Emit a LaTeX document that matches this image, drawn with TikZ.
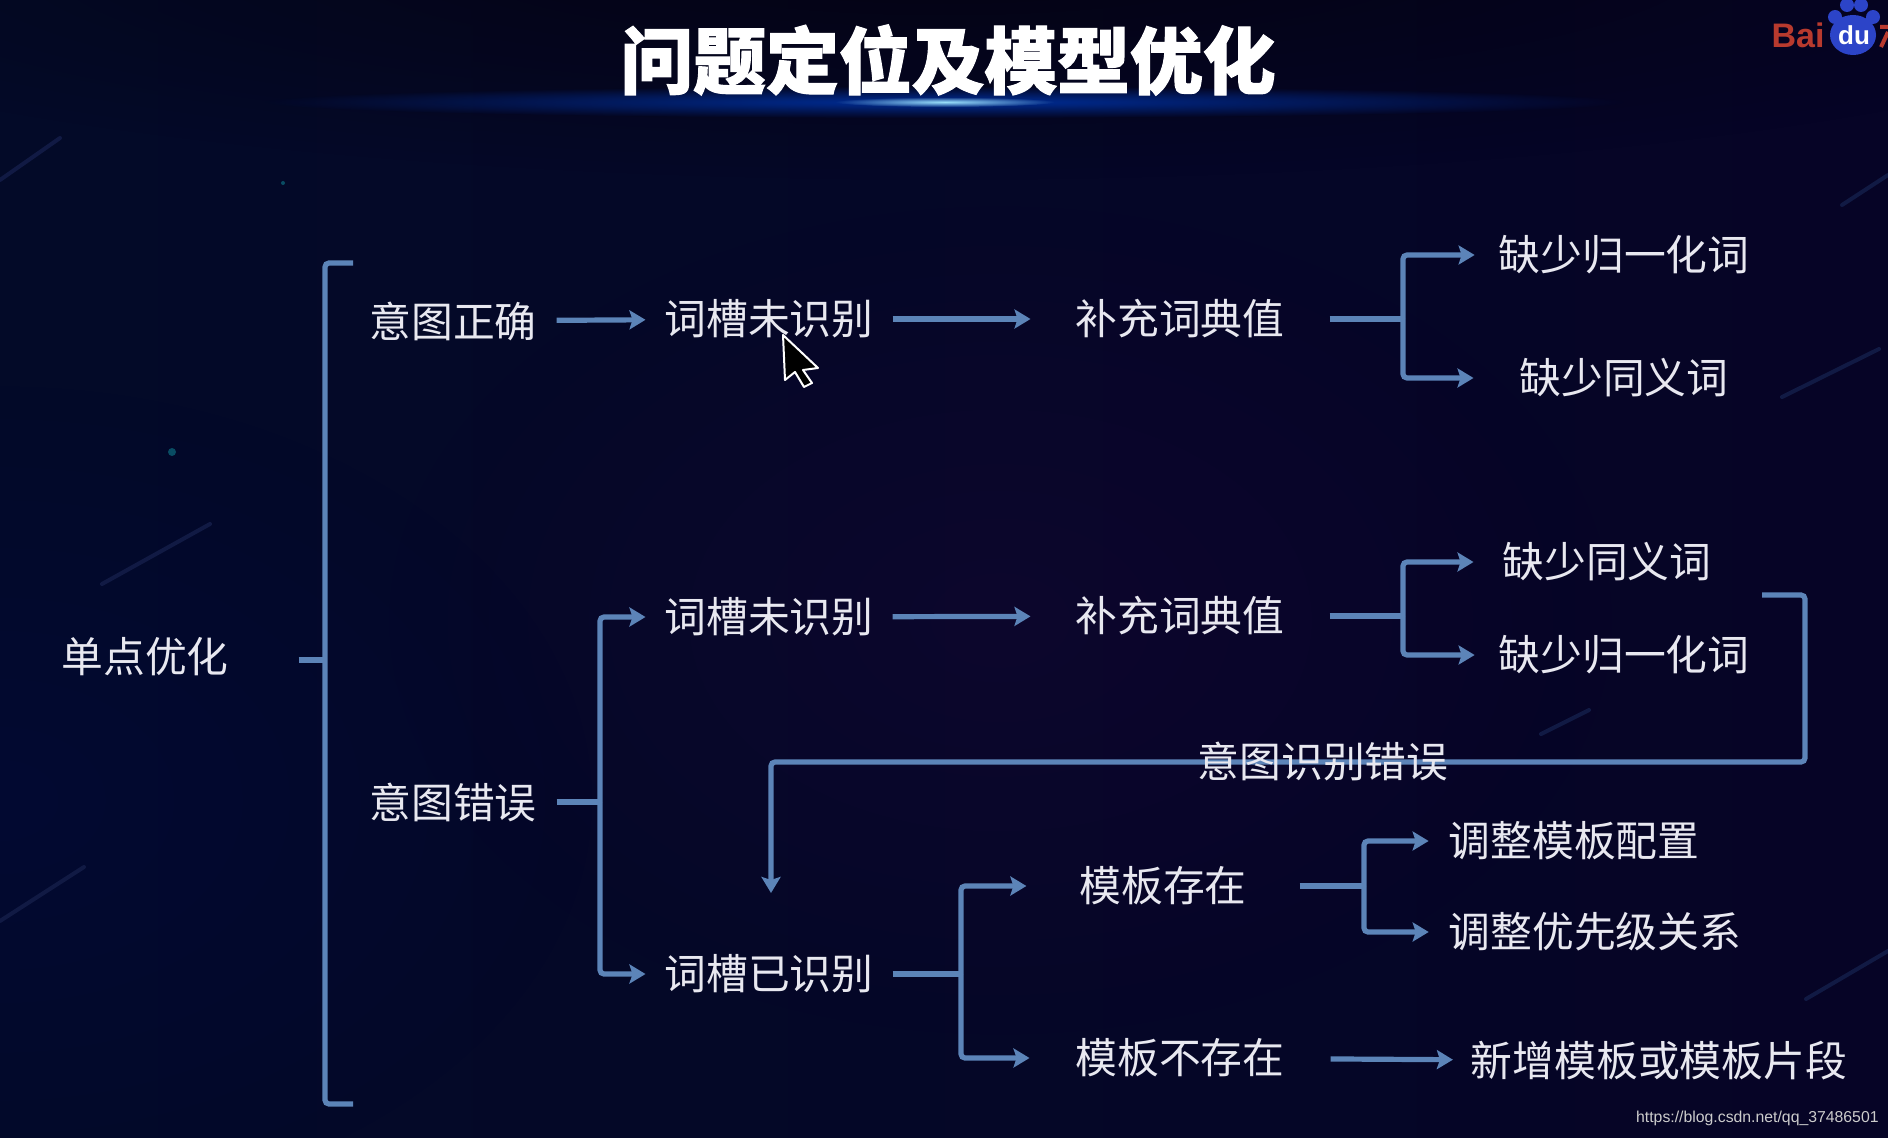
\documentclass[tikz,border=0pt]{standalone}
\usepackage{fontspec}
\setmainfont{Noto Sans CJK SC}
\newfontfamily\wmfont{Liberation Sans}
\newfontfamily\titlefont[BoldFeatures={FakeBold=1.5}]{Noto Sans CJK SC}
\usetikzlibrary{arrows.meta,fadings}
\definecolor{bgmid}{HTML}{0D052E}
\definecolor{bgleft}{HTML}{030A28}
\definecolor{bgright}{HTML}{060426}
\definecolor{flowblue}{HTML}{5C84B8}
\definecolor{labelgrey}{HTML}{E8E8F0}
\definecolor{streak}{HTML}{111A44}
\definecolor{baidured}{HTML}{B83A2E}
\definecolor{baidublue}{HTML}{2C44C8}
\tikzfading[name=glowfade,inner color=transparent!0,outer color=transparent!100]
\tikzset{
  lbl/.style={text=labelgrey,inner sep=0pt,outer sep=10pt,font=\fontsize{20.9}{24}\selectfont},
  flow/.style={draw=flowblue,line width=2.6pt,rounded corners=2pt},
  arr/.style={flow,-{Stealth[length=8pt,width=9.5pt,inset=1.5pt]}},
}
\begin{document}
\begin{tikzpicture}[x=0.5pt,y=-0.5pt]
\useasboundingbox (0,0) rectangle (1888,1138);
% background
\shade[left color=bgleft,middle color=bgmid,right color=bgright] (0,0) rectangle (1888,1138);
\fill[black!70!bgmid,path fading=glowfade,opacity=.8] (944,-40) ellipse (1300 and 220);
\fill[blue!45!bgleft,path fading=glowfade,opacity=.1] (0,800) ellipse (600 and 420);
\fill[violet!50!bgmid,path fading=glowfade,opacity=.12] (1000,620) ellipse (620 and 420);
\foreach \xa/\ya/\xb/\yb in {0/180/60/138,102/584/210/524,0/921/84/867,1782/397/1879/349,1842/205/1888/175,1806/999/1888/951,1541/734/1589/710}
  \draw[streak,line width=2pt,line cap=round] (\xa,\ya)--(\xb,\yb);
\fill[streak!70!cyan!80!black] (172,452) circle(4);
\fill[streak!70!cyan!80!black] (283,183) circle(2);
% title and glow
\fill[blue!70!cyan!60!black,path fading=glowfade] (945,102) ellipse (680 and 16);
\fill[cyan!40!white,path fading=glowfade] (945,102) ellipse (110 and 5);
\node (title) at (948,60) [text=white,inner sep=0pt,font=\titlefont\fontsize{36.4}{40}\bfseries\selectfont] {问题定位及模型优化};
% baidu logo
\node (bai) at (1798,35) [text=baidured,inner sep=0pt,font=\wmfont\fontsize{17}{18}\bfseries\selectfont] {Bai};
\fill[baidublue] (1835,17) circle(7) (1847,5) circle(7) (1861,5) circle(7) (1873,17) circle(7) (1853,35) ellipse (23 and 20);
\node (du) at (1854,35) [text=white,inner sep=0pt,font=\wmfont\fontsize{13}{14}\bfseries\selectfont] {du};
\draw[baidured,line width=2pt] (1880,27)--(1888,27) (1888,32)--(1881,47);
% nodes
\node[lbl,outer sep=35pt] (root) at (145,657) {单点优化};
\node[lbl] (intentok) at (453,321) {意图正确};
\node[lbl,outer sep=9.5pt] (slota) at (769,319) {词槽未识别};
\node[lbl,outer sep=22.5pt] (filla) at (1180,319) {补充词典值};
\node[lbl,outer sep=12pt] (norma) at (1624,255) {缺少归一化词};
\node[lbl,outer sep=23pt] (syna) at (1624,378) {缺少同义词};
\node[lbl] (intentbad) at (453,802) {意图错误};
\node[lbl,outer sep=9.5pt] (slotb) at (769,617) {词槽未识别};
\node[lbl,outer sep=22.5pt] (fillb) at (1180,616) {补充词典值};
\node[lbl,outer sep=14.5pt] (synb) at (1607,562) {缺少同义词};
\node[lbl,outer sep=12pt] (normb) at (1624,655) {缺少归一化词};
\node[lbl,outer sep=9.5pt] (slotc) at (769,974) {词槽已识别};
\node[lbl,outer sep=26.5pt] (tplyes) at (1163,886) {模板存在};
\node[lbl,outer sep=23pt] (tplno) at (1180,1058) {模板不存在};
\node[lbl] (cfg) at (1574,841) {调整模板配置};
\node[lbl] (prio) at (1595,932) {调整优先级关系};
\node[lbl,outer sep=9pt] (addtpl) at (1659,1061) {新增模板或模板片段};
% junctions
\coordinate (bracetop) at (353,263);
\coordinate (bracebot) at (353,1104);
\coordinate (bracemid) at (325,660);
\coordinate (ja) at (1403,319);
\coordinate (jb) at (1403,616);
\coordinate (jc) at (600,802);
\coordinate (jd) at (961,974);
\coordinate (je) at (1364,886);
\coordinate (backa) at (1762,595);
\coordinate (backb) at (1805,762);
\coordinate (backc) at (771,762);
\coordinate (backd) at (771,893);
% connectors
\draw[flow] (bracetop)--(325,263)--(325,1104)--(bracebot);
\draw[flow] (root.east|-bracemid)--(bracemid);
\draw[arr] (intentok)--(slota);
\draw[arr] (slota)--(filla);
\draw[flow] (filla)--(ja);
\draw[arr] (ja)|-(norma);
\draw[arr] (ja)|-(syna);
\draw[flow] (intentbad)--(jc);
\draw[arr] (jc)|-(slotb);
\draw[arr] (jc)|-(slotc);
\draw[arr] (slotb)--(fillb);
\draw[flow] (fillb)--(jb);
\draw[arr] (jb)|-(synb);
\draw[arr] (jb)|-(normb);
\draw[flow] (slotc)--(jd);
\draw[arr] (jd)|-(tplyes);
\draw[arr] (jd)|-(tplno);
\draw[flow] (tplyes)--(je);
\draw[arr] (je)|-(cfg);
\draw[arr] (je)|-(prio);
\draw[arr] (tplno)--(addtpl);
\draw[arr] (backa)-|(backb)--(backc)--(backd);
\node[lbl] (wrong) at (1323,762) {意图识别错误};
% cursor
\draw[white,line width=1pt,fill=black,line join=round] (783,335)--(785,380)--(795,372)--(804,387)--(812,383)--(803,370)--(818,368)--cycle;
% watermark
\node (wm) at (1879,1118) [anchor=east,inner sep=0pt,text=white!80!black,font=\wmfont\fontsize{7.9}{10}\selectfont] {https://blog.csdn.net/qq\_37486501};
\end{tikzpicture}
\end{document}
